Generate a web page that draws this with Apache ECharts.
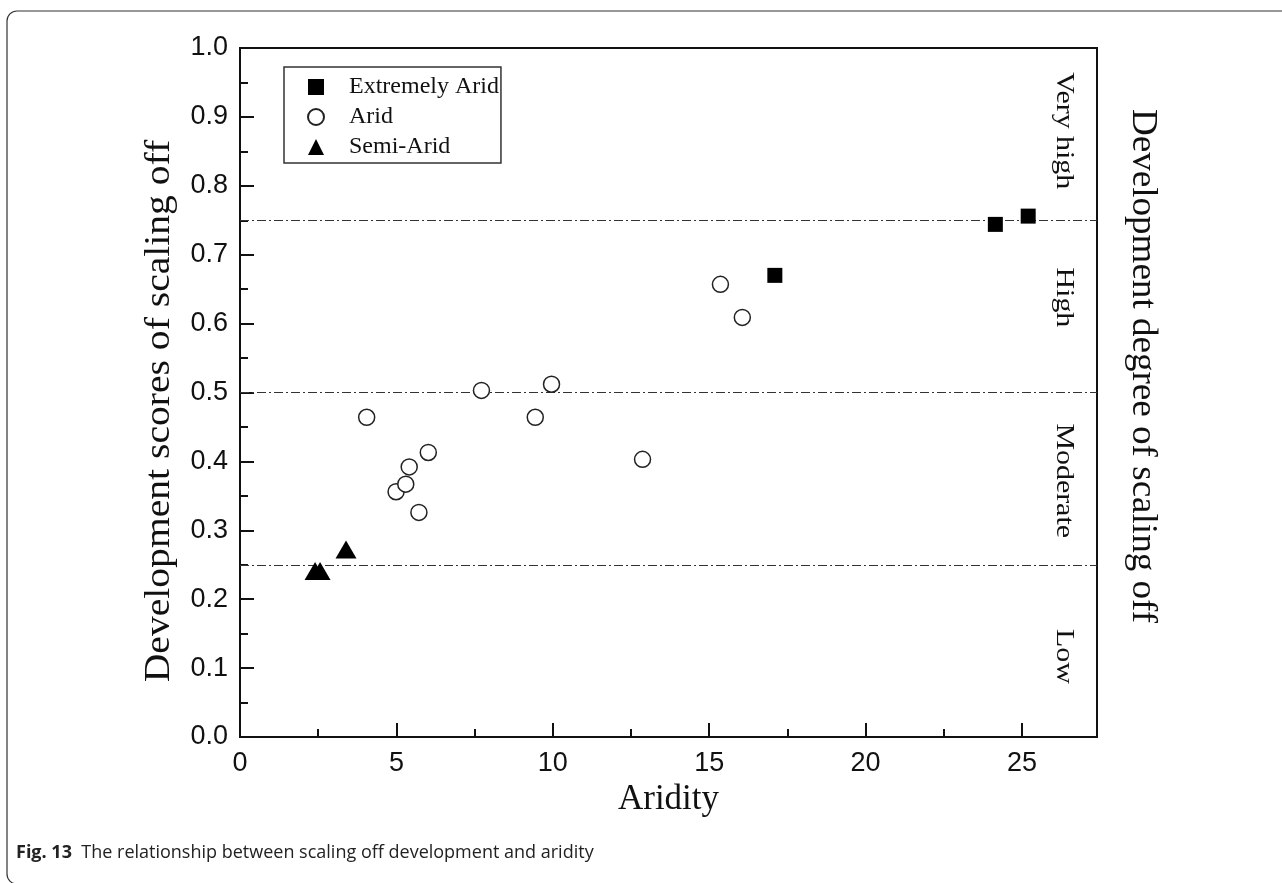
<!DOCTYPE html>
<html>
<head>
<meta charset="utf-8">
<script src="https://cdn.jsdelivr.net/npm/echarts@6/dist/echarts.min.js"></script>
<style>html,body{margin:0;padding:0;background:#fff;}#c{width:1282px;height:883px;}</style>
</head>
<body>
<div id="c"></div>
<script>
const extremelyArid = [[17.1, 0.670], [24.15, 0.744], [25.2, 0.756]];
const arid = [[4.05, 0.464], [4.99, 0.356], [5.3, 0.367], [5.41, 0.392], [5.72, 0.326], [6.02, 0.413], [7.72, 0.503], [9.44, 0.464], [9.96, 0.512], [12.87, 0.403], [15.36, 0.657], [16.06, 0.609]];
const semiArid = [[2.4, 0.241], [2.56, 0.241], [3.39, 0.272]];
const thresholds = [0.25, 0.5, 0.75];
const levelNames = ['Low', 'Moderate', 'High', 'Very high'];
const levelCenters = [0.117, 0.372, 0.638, 0.88];
const seriesNames = ['Extremely Arid', 'Arid', 'Semi-Arid'];

const chart = echarts.init(document.getElementById('c'), null, {renderer: 'canvas'});
const serif = '"Liberation Serif", "Times New Roman", serif';
const sans = '"Liberation Sans", Arial, sans-serif';

const baseGraphic = [
  {type: 'rect', shape: {x: 7, y: 11, width: 1320, height: 873, r: 10}, style: {fill: 'none', stroke: '#333', lineWidth: 1.2}, z: -10},
  {type: 'text', x: 160, y: 411, rotation: Math.PI / 2, scaleX: 1.1,
    style: {text: 'Development scores of scaling off', fontFamily: serif, fontSize: 36, fill: '#111', textAlign: 'center', textVerticalAlign: 'middle'}},
  {type: 'text', x: 1142, y: 366, rotation: -Math.PI / 2, scaleX: 1.03,
    style: {text: 'Development degree of scaling off', fontFamily: serif, fontSize: 36, fill: '#111', textAlign: 'center', textVerticalAlign: 'middle'}},
  {type: 'text', x: 16, y: 853,
    style: {text: '{b|Fig. 13}  The relationship between scaling off development and aridity',
      rich: {b: {fontWeight: 'bold', fontFamily: '"Open Sans", sans-serif', fontSize: 18, fill: '#222'}},
      fontFamily: '"Open Sans", sans-serif', fontSize: 18, fill: '#222', textVerticalAlign: 'middle'}}
];

chart.setOption({
  animation: false,
  backgroundColor: '#fff',
  grid: {left: 240, top: 48, right: 185, bottom: 146, show: true, borderColor: '#111', borderWidth: 2},
  legend: {
    orient: 'vertical', left: 284, top: 67,
    data: seriesNames, itemWidth: 16, itemHeight: 16, itemGap: 6,
    padding: [8, 2, 4, 23],
    borderColor: '#333', borderWidth: 1.5,
    textStyle: {fontFamily: serif, fontSize: 24, color: '#111', padding: [0, 0, 0, 20]}
  },
  xAxis: {
    type: 'value', min: 0, max: 27.4, interval: 5,
    name: 'Aridity', nameLocation: 'middle', nameGap: 34,
    nameTextStyle: {fontFamily: serif, fontSize: 35, color: '#111'},
    axisLine: {lineStyle: {color: '#111', width: 2}},
    axisTick: {inside: true, length: 14, lineStyle: {color: '#111', width: 2}},
    minorTick: {show: true, splitNumber: 2, length: 8, lineStyle: {color: '#111', width: 2}},
    axisLabel: {fontFamily: sans, fontSize: 27, color: '#111', margin: 13, showMaxLabel: false},
    splitLine: {show: false}
  },
  yAxis: {
    type: 'value', min: 0, max: 1, interval: 0.1,
    axisLine: {lineStyle: {color: '#111', width: 2}},
    axisTick: {inside: true, length: 14, lineStyle: {color: '#111', width: 2}},
    minorTick: {show: true, splitNumber: 2, length: 8, lineStyle: {color: '#111', width: 2}},
    axisLabel: {fontFamily: sans, fontSize: 27, color: '#111', margin: 12, formatter: v => v.toFixed(1)},
    splitLine: {show: false}
  },
  graphic: baseGraphic,
  series: [
    {name: 'Extremely Arid', type: 'scatter', data: extremelyArid, symbol: 'rect', symbolSize: 15, z: 5,
      itemStyle: {color: '#000', opacity: 1},
      markLine: {silent: true, symbol: 'none', label: {show: false},
        lineStyle: {color: '#333', width: 1, type: [9, 3, 2, 3]},
        data: thresholds.map(v => ({yAxis: v}))}},
    {name: 'Arid', type: 'scatter', data: arid, symbol: 'circle', symbolSize: 16, z: 5,
      itemStyle: {color: '#fff', borderColor: '#222', borderWidth: 1.5, opacity: 1}},
    {name: 'Semi-Arid', type: 'scatter', data: semiArid, symbol: 'triangle', symbolSize: [21, 18], z: 5,
      itemStyle: {color: '#000', opacity: 1}}
  ]
});

const levelGraphics = levelNames.map((name, i) => {
  const p = chart.convertToPixel({xAxisIndex: 0, yAxisIndex: 0}, [26.35, levelCenters[i]]);
  return {type: 'text', x: p[0], y: p[1], rotation: -Math.PI / 2, scaleX: 1.15,
    style: {text: name, fontFamily: serif, fontSize: 26, fill: '#111', textAlign: 'center', textVerticalAlign: 'middle'}};
});
chart.setOption({graphic: baseGraphic.concat(levelGraphics)});
</script>
</body>
</html>
